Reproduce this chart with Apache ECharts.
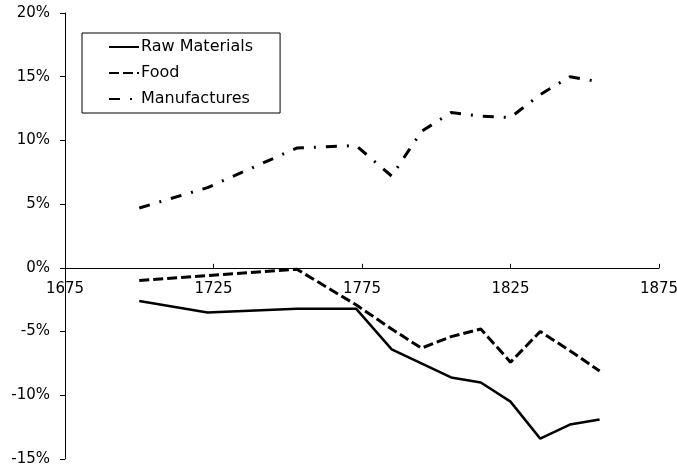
<!DOCTYPE html>
<html>
<head>
<meta charset="utf-8">
<script src="https://cdn.jsdelivr.net/npm/echarts@6/dist/echarts.min.js"></script>
<style>
  html, body { margin: 0; padding: 0; background: #fff; }
  #chart { width: 677px; height: 469px; }
</style>
</head>
<body>
<div id="chart"></div>
<script>
// period mid-years (1699-1701, 1722-24, ... 1854-56)
const years = [1700, 1723, 1753, 1773, 1785, 1795, 1805, 1815, 1825, 1835, 1845, 1855]
const rawMaterials = [-2.6, -3.5, -3.2, -3.2, -6.4, -7.5, -8.6, -9.0, -10.5, -13.4, -12.3, -11.9]
const food = [-1.0, -0.6, -0.1, -2.9, -4.8, -6.3, -5.4, -4.8, -7.4, -5.0, -6.5, -8.1]
const manufactures = [4.7, 6.3, 9.4, 9.6, 7.2, 10.7, 12.2, 11.9, 11.8, 13.6, 15.0, 14.6]

const fontFamily = 'Verdana, "DejaVu Sans", sans-serif'
const pairs = (vals) => years.map((y, i) => [y, vals[i]])

const H = 469
const grid = { left: 65, right: 18, top: 13, bottom: 10 }
const yMin = -15
const yMax = 20
// move the x axis up to the zero line (v6 keeps labels at the grid edge with onZero)
const zeroOffset = -((H - grid.top - grid.bottom) * (0 - yMin) / (yMax - yMin))

const chart = echarts.init(document.getElementById('chart'))
chart.setOption({
  animation: false,
  textStyle: { fontFamily: fontFamily, color: '#000' },
  grid: { ...grid, outerBoundsMode: 'none', containLabel: false },
  legend: {
    orient: 'vertical',
    left: 82,
    top: 33,
    padding: [6, 27, 6, 26],
    itemWidth: 30,
    itemHeight: 14,
    itemGap: 10,
    borderColor: '#000',
    borderWidth: 1,
    itemStyle: { opacity: 0 },
    textStyle: { fontFamily: fontFamily, fontSize: 16, color: '#000', padding: [0, 0, 0, -3] },
    data: ['Raw Materials', 'Food', 'Manufactures']
  },
  xAxis: {
    type: 'value',
    position: 'bottom',
    offset: zeroOffset,
    min: 1675,
    max: 1875,
    interval: 50,
    splitLine: { show: false },
    axisLine: { onZero: false, lineStyle: { color: '#000', width: 1 } },
    axisTick: { inside: true, length: 4, lineStyle: { color: '#000' } },
    axisLabel: { fontSize: 15, color: '#000', margin: 14, fontFamily: fontFamily, formatter: (v) => String(v) }
  },
  yAxis: {
    type: 'value',
    min: yMin,
    max: yMax,
    interval: 5,
    splitLine: { show: false },
    axisLine: { show: true, lineStyle: { color: '#000', width: 1 } },
    axisTick: { show: true, length: 5, lineStyle: { color: '#000' } },
    axisLabel: { fontSize: 15, color: '#000', margin: 15, fontFamily: fontFamily, formatter: '{value}%' }
  },
  series: [
    {
      name: 'Raw Materials',
      type: 'line',
      symbol: 'none',
      data: pairs(rawMaterials),
      lineStyle: { color: '#000', width: 2.5, type: 'solid' },
      itemStyle: { color: '#000' }
    },
    {
      name: 'Food',
      type: 'line',
      symbol: 'none',
      data: pairs(food),
      lineStyle: { color: '#000', width: 3, type: [10, 4] },
      itemStyle: { color: '#000' }
    },
    {
      name: 'Manufactures',
      type: 'line',
      symbol: 'none',
      data: pairs(manufactures),
      lineStyle: { color: '#000', width: 3, type: [11, 10, 2, 10] },
      itemStyle: { color: '#000' }
    }
  ]
})
</script>
</body>
</html>
